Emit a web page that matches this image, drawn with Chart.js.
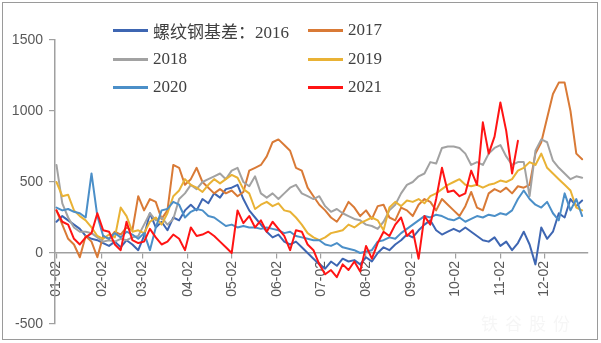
<!DOCTYPE html>
<html><head><meta charset="utf-8">
<script src="https://cdn.jsdelivr.net/npm/chart.js@4"></script>
<style>
html,body{margin:0;padding:0;background:#fff;}
#wrap{position:relative;width:601px;height:343px;overflow:hidden;background:#fff;}
#frame{position:absolute;left:2px;top:2px;width:594px;height:336px;border:1px solid #9a9a9a;pointer-events:none;}
.item{position:absolute;display:flex;align-items:center;height:20px;font-family:"Liberation Serif","Noto Sans CJK SC",serif;font-size:17px;color:#404040;white-space:nowrap;}
.item .ln{display:inline-block;width:35px;height:3px;margin-right:5px;}
#wm{position:absolute;left:481px;top:310px;font-family:"Noto Sans CJK SC";font-size:17px;letter-spacing:7px;color:#f6f6f6;}
</style>
</head><body>
<div id="wrap">
<canvas id="c" width="601" height="343"></canvas>
<div id="wm">铁谷股份</div>
<div id="legend"></div>
<div id="frame"></div>
</div>
<script>
const seriesNames = ['螺纹钢基差：2016','2017','2018','2019','2020','2021'];
const seriesColors = ['#3E66B2','#D97A36','#A2A2A2','#E9B235','#4B8FC8','#FF1414'];
const tickDays = [1,32,60,91,121,152,182,213,244,274,305,335];
const tickLabels = ['01-02','02-02','03-02','04-02','05-02','06-02','07-02','08-02','09-02','10-02','11-02','12-02'];
const yTicks = [-500,0,500,1000,1500];
const days = [1,5,9,13,17,21,25,29,33,37,41,45,49,53,57,61,65,69,73,77,81,85,89,93,97,101,105,109,113,117,121,125,129,133,137,141,145,149,153,157,161,165,169,173,177,181,185,189,193,197,201,205,209,213,217,221,225,229,233,237,241,245,249,253,257,261,265,269,273,277,281,285,289,293,297,301,305,309,313,317,321,325,329,333,337,341,345,349,353,357,361];
const s2016 = [220,260,230,200,170,120,100,90,70,50,80,40,90,60,20,120,280,180,220,160,250,230,300,340,300,380,350,420,390,450,460,480,380,300,250,200,150,110,130,80,60,80,40,0,-40,-80,-110,-60,-90,-40,-60,-50,-80,-30,-60,0,40,20,60,90,130,110,160,200,230,160,130,150,170,150,180,150,120,90,80,110,50,80,20,70,150,60,-80,180,100,150,280,250,380,330,370];
const s2017 = [300,200,100,60,-30,120,80,-30,120,100,150,130,180,160,400,300,380,360,240,300,620,600,480,520,600,500,460,420,450,420,440,400,430,580,600,620,680,780,800,760,720,600,580,460,400,340,300,250,220,280,360,320,260,300,240,330,340,250,230,320,300,260,340,380,360,300,380,340,300,260,330,430,320,300,420,450,430,460,420,470,460,480,700,780,950,1120,1200,1200,1000,700,660];
const s2018 = [620,350,250,180,150,150,140,110,80,90,80,100,90,110,120,200,280,230,250,200,240,380,420,480,450,500,520,540,560,520,580,600,500,470,540,420,390,420,380,420,460,480,420,400,380,400,330,290,310,280,260,240,230,200,190,170,220,300,340,420,480,500,540,560,640,630,740,750,750,740,700,620,640,620,700,740,760,680,620,640,640,400,720,800,780,650,600,560,520,540,530];
const s2019 = [500,400,410,300,260,230,180,120,100,130,110,320,260,150,160,140,220,250,200,280,400,440,520,480,460,430,480,520,490,520,550,530,450,420,310,340,360,330,350,300,290,250,200,140,110,90,110,140,150,160,200,180,210,230,250,230,160,320,360,330,370,360,380,350,400,420,450,480,500,520,480,470,480,460,480,490,510,500,520,580,600,640,620,700,600,560,520,480,440,320,300];
const s2020 = [320,300,310,290,280,250,560,260,120,100,140,110,150,130,100,140,20,180,300,310,360,340,250,290,310,300,260,250,220,190,200,180,190,180,180,170,180,170,160,140,150,120,110,100,90,90,60,50,70,40,30,20,0,10,20,80,90,110,100,140,170,200,230,260,250,270,260,240,230,250,220,240,260,250,270,260,280,270,300,380,440,380,340,320,360,280,230,420,300,380,260];
const s2021 = [300,220,200,100,60,110,140,280,160,150,60,20,220,90,70,80,170,110,60,80,130,100,20,180,120,130,150,120,80,40,0,300,210,260,180,230,150,220,170,120,20,160,150,60,20,-80,-150,-120,-170,-80,-120,-60,-130,50,-40,70,150,120,200,250,120,160,-40,260,200,380,600,430,440,400,420,580,480,920,700,820,1060,860,560,790];
const seriesData = [s2016,s2017,s2018,s2019,s2020,s2021];

// HTML legend (2 columns x 3 rows)
const legend = document.getElementById('legend');
const legX = [113, 308], legY = [20, 49, 77];
seriesNames.forEach((n, i) => {
  const d = document.createElement('div');
  d.className = 'item';
  d.style.left = legX[i % 2] + 'px';
  d.style.top = legY[Math.floor(i / 2)] + 'px';
  d.innerHTML = '<span class="ln" style="background:' + seriesColors[i] + '"></span><span>' + n + '</span>';
  legend.appendChild(d);
});

new Chart(document.getElementById('c'), {
  type: 'line',
  data: {
    labels: days,
    datasets: seriesData.map((d, i) => ({
      label: seriesNames[i], data: d, borderColor: seriesColors[i], backgroundColor: seriesColors[i],
      borderWidth: 2, pointRadius: 0, tension: 0, fill: false, order: 6 - i,
      borderJoinStyle: 'round', borderCapStyle: 'round'
    }))
  },
  options: {
    responsive: false, animation: false,
    layout: { padding: { top: 40, left: 0, right: 13, bottom: 19 } },
    plugins: { legend: { display: false }, tooltip: { enabled: false } },
    scales: {
      x: {
        type: 'linear', position: { y: 0 }, min: 0, max: 365,
        afterFit(s) { s.height = 0; },
        afterBuildTicks(s) { s.ticks = tickDays.map(v => ({ value: v })); },
        grid: { drawOnChartArea: false, drawTicks: true, tickLength: 5, color: '#A0A0A0', lineWidth: 1.2 },
        border: { color: '#A0A0A0', width: 1.5 },
        ticks: {
          autoSkip: false, maxRotation: 90, minRotation: 90, padding: 3, color: '#595959',
          font: { family: 'Liberation Sans', size: 14 },
          callback: (v) => { const i = tickDays.indexOf(v); return i >= 0 ? tickLabels[i] : ''; }
        }
      },
      y: {
        min: -500, max: 1500,
        afterFit(s) { s.width = 55; },
        afterBuildTicks(s) { s.ticks = yTicks.map(v => ({ value: v })); },
        grid: { drawOnChartArea: false, drawTicks: true, tickLength: 6, color: '#A0A0A0', lineWidth: 1.2 },
        border: { color: '#A0A0A0', width: 1.5 },
        ticks: { padding: 6, color: '#595959', font: { family: 'Liberation Sans', size: 14 }, callback: (v) => String(v) }
      }
    }
  }
});
</script>
</body></html>
